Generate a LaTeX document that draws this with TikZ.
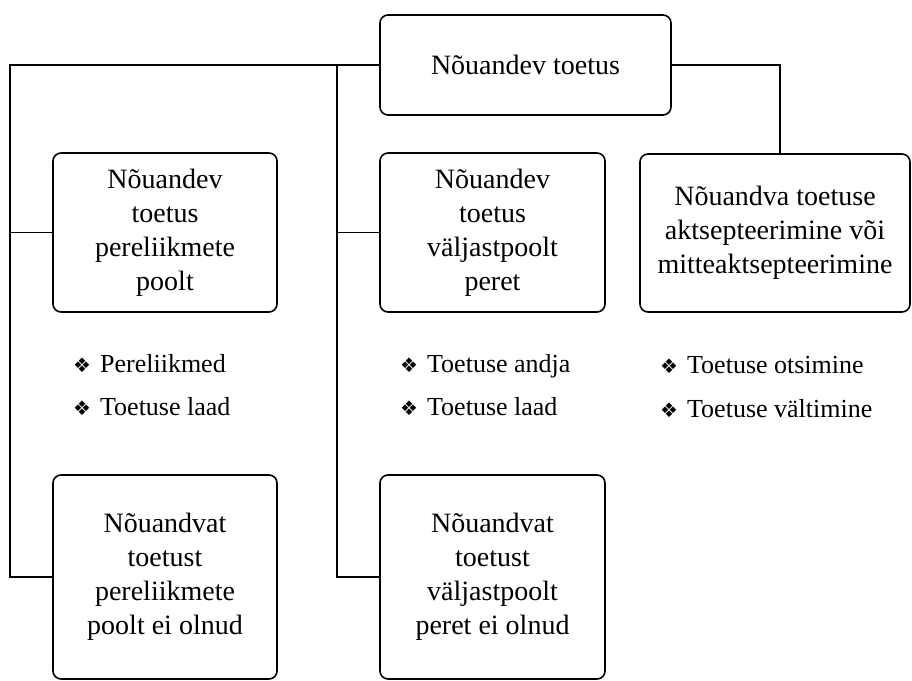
\documentclass[tikz,border=0pt]{standalone}
\usepackage{fontspec}
\setmainfont{Liberation Serif}
\newfontfamily\symfont{DejaVu Sans}
\begin{document}
\begin{tikzpicture}[x=1pt,y=-1pt,
  box/.style={draw, line width=1.6pt, rounded corners=8pt, align=center,
    font=\fontsize{28}{34}\selectfont, inner sep=0pt},
  conn/.style={line width=1.6pt},
  item/.style={anchor=base west, inner sep=0pt, font=\fontsize{26}{30}\selectfont}]
\useasboundingbox (0,0) rectangle (912,680);
\node[box, minimum width=291pt, minimum height=100pt] (top) at (525.5,65) {Nõuandev toetus};
\node[box, minimum width=224pt, minimum height=159pt] (b1) at (165,232.5) {Nõuandev\\toetus\\pereliikmete\\poolt};
\node[box, minimum width=225pt, minimum height=159pt] (b2) at (492.5,232.5) {Nõuandev\\toetus\\väljastpoolt\\peret};
\node[box, minimum width=270pt, minimum height=158pt] (b3) at (775,233) {Nõuandva toetuse\\aktsepteerimine või\\mitteaktsepteerimine};
\node[box, minimum width=224pt, minimum height=204pt] (b4) at (165,577) {Nõuandvat\\toetust\\pereliikmete\\poolt ei olnud};
\node[box, minimum width=225pt, minimum height=204pt] (b5) at (492.5,577) {Nõuandvat\\toetust\\väljastpoolt\\peret ei olnud};
\coordinate (L1) at (10,66);
\coordinate (L2) at (337,66);
\draw[conn] (top.west) -- (top.west -| L1) -- (L1 |- b4.west) -- (b4.west);
\draw[conn] (b1.west) -- (b1.west -| L1);
\draw[conn] (top.west -| L2) -- (L2 |- b5.west) -- (b5.west);
\draw[conn] (b2.west) -- (b2.west -| L2);
\draw[conn] (top.east) -| ([xshift=5pt]b3.north);
\node[item] (i11) at (73,372) {{\symfont\fontsize{20}{24}\selectfont ❖}\hspace{9pt}Pereliikmed};
\node[item] (i12) at (73,415) {{\symfont\fontsize{20}{24}\selectfont ❖}\hspace{9pt}Toetuse laad};
\node[item] (i21) at (400,372) {{\symfont\fontsize{20}{24}\selectfont ❖}\hspace{9pt}Toetuse andja};
\node[item] (i22) at (400,415) {{\symfont\fontsize{20}{24}\selectfont ❖}\hspace{9pt}Toetuse laad};
\node[item] (i31) at (660,373) {{\symfont\fontsize{20}{24}\selectfont ❖}\hspace{9pt}Toetuse otsimine};
\node[item] (i32) at (660,417) {{\symfont\fontsize{20}{24}\selectfont ❖}\hspace{9pt}Toetuse vältimine};
\end{tikzpicture}
\end{document}
